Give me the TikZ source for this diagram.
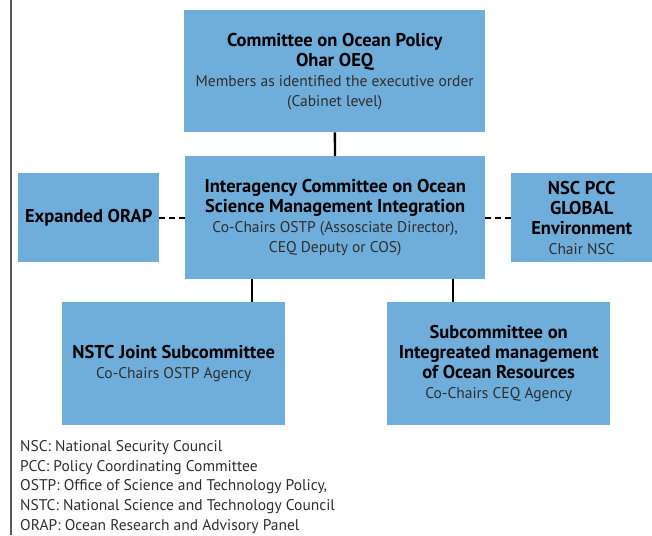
\documentclass[tikz,border=0pt]{standalone}
\usepackage{fontspec}
\setmainfont{PT Sans}
\usepackage{tikz}
\usetikzlibrary{calc,positioning}
\definecolor{boxblue}{HTML}{6FADDA}
\definecolor{subgray}{HTML}{2E2E2E}
\tikzset{
  orgbox/.style={fill=boxblue, draw=none, align=center, inner sep=0pt,
    anchor=north west, font=\fontsize{15.5}{20}\selectfont},
  link/.style={line width=2.4pt, black},
  dashlink/.style={line width=2.4pt, black, dash pattern=on 6pt off 4pt}
}
\newcommand{\ttl}[1]{{\bfseries\fontsize{18.5}{21}\selectfont #1}}
\newcommand{\sub}[1]{{\color{subgray}#1}}
\begin{document}
\begin{tikzpicture}[x=1pt,y=-1pt]
  \useasboundingbox (0,0) rectangle (652,535);
  % frame line at the left
  \draw[line width=2pt, gray!70!black] (11,0) -- (11,535);
  % Boxes
  \node[orgbox, minimum width=301pt, minimum height=122pt] (cop) at (184,10)
    {\ttl{Committee on Ocean Policy}\\ \ttl{Ohar OEQ}\\
     \sub{Members as identified the executive order}\\ \sub{(Cabinet level)}};
  \node[orgbox, minimum width=300pt, minimum height=123pt] (icm) at (185,156)
    {\ttl{Interagency Committee on Ocean}\\ \ttl{Science Management Integration}\\
     \sub{Co-Chairs OSTP (Assosciate Director),}\\ \sub{CEQ Deputy or COS)}};
  \node[orgbox, minimum width=141pt, minimum height=89pt] (orap) at (18,173)
    {\ttl{Expanded ORAP}};
  \node[orgbox, minimum width=141pt, minimum height=89pt] (nsc) at (511,173)
    {\ttl{NSC PCC}\\ \ttl{GLOBAL}\\ \ttl{Environment}\\ \sub{Chair NSC}};
  \node[orgbox, minimum width=223pt, minimum height=123pt] (nstc) at (62,302)
    {\ttl{NSTC Joint Subcommittee}\\ \sub{Co-Chairs OSTP Agency}};
  \node[orgbox, minimum width=223pt, minimum height=123pt] (sciom) at (387,302)
    {\ttl{Subcommittee on}\\ \ttl{Integreated management}\\
     \ttl{of Ocean Resources}\\ \sub{Co-Chairs CEQ Agency}};
  % Connectors
  \draw[link] (cop) -- (icm);
  \draw[dashlink] (orap) -- (icm);
  \draw[dashlink] (icm) -- (nsc);
  \coordinate (jl) at ($(icm.south west)!0.223!(icm.south east)$);
  \coordinate (jr) at ($(icm.south west)!0.893!(icm.south east)$);
  \draw[link] (jl) -- (jl |- nstc.north);
  \draw[link] (jr) -- (jr |- sciom.north);
  % Legend
  \node[anchor=north west, align=left, inner sep=0pt, text=subgray,
    font=\fontsize{15.5}{19.8}\selectfont] (legend) at (20,440)
    {NSC: National Security Council\\
     PCC: Policy Coordinating Committee\\
     OSTP: Office of Science and Technology Policy,\\
     NSTC: National Science and Technology Council\\
     ORAP: Ocean Research and Advisory Panel};
\end{tikzpicture}
\end{document}
